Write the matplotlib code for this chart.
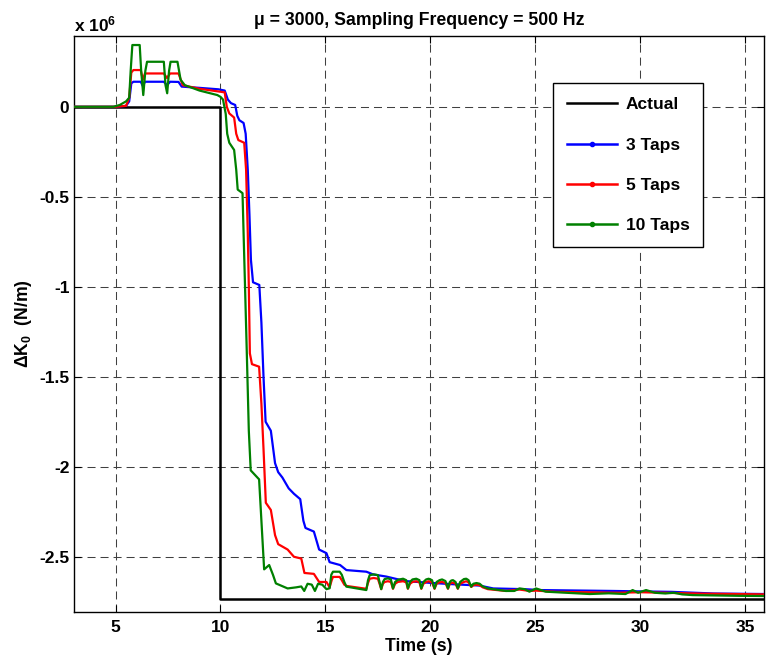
import matplotlib
matplotlib.use("Agg")
import matplotlib.pyplot as plt
from matplotlib.lines import Line2D

plt.rcParams['font.family'] = ['Liberation Sans', 'DejaVu Sans']
plt.rcParams['font.weight'] = 'bold'
plt.rcParams['mathtext.fontset'] = 'custom'
plt.rcParams['mathtext.rm'] = 'Liberation Sans:bold'
plt.rcParams['mathtext.bf'] = 'Liberation Sans:bold'
plt.rcParams['mathtext.default'] = 'bf'

# ---------------- data (values in units of 1e6 N/m) ----------------
t_actual = [3, 10, 10, 35.9]
k_actual = [0, 0, -2.733, -2.733]

t_3taps = [3, 5.0, 5.5, 5.65, 5.75, 5.85, 6.2, 6.3, 6.4, 7.3, 7.45, 7.6, 8.0, 8.15, 9.0, 9.9,
           10.2, 10.35, 10.5, 10.7, 10.8, 10.9, 11.1, 11.2, 11.3, 11.38, 11.45, 11.55, 11.85,
           11.95, 12.05, 12.15, 12.4, 12.6, 12.75, 12.95, 13.25, 13.5, 13.8, 13.95, 14.05, 14.45,
           14.7, 15.05, 15.2, 15.7, 16.0, 16.95, 17.27, 17.9, 18.8, 20.0, 21.0, 22.34, 23.0,
           24.5, 25.2, 28.7, 31.5, 33.5, 35.9]
k_3taps = [0, 0, 0.005, 0.03, 0.13, 0.139, 0.139, 0.115, 0.139, 0.139, 0.12, 0.139, 0.138, 0.112, 0.105, 0.097,
           0.09, 0.04, 0.02, 0.01, -0.05, -0.075, -0.09, -0.15, -0.35, -0.6, -0.85, -0.975, -0.99,
           -1.2, -1.5, -1.75, -1.8, -1.98, -2.03, -2.06, -2.12, -2.15, -2.18, -2.3, -2.34, -2.36,
           -2.46, -2.48, -2.53, -2.546, -2.574, -2.583, -2.598, -2.61, -2.635, -2.645, -2.652, -2.66, -2.676,
           -2.68, -2.685, -2.69, -2.695, -2.704, -2.707]

t_5taps = [3, 5.0, 5.5, 5.65, 5.75, 5.85, 6.2, 6.3, 6.4, 7.3, 7.45, 7.6, 8.0, 8.2, 9.0, 9.9,
           10.2, 10.3, 10.42, 10.65, 10.75, 10.85, 11.13, 11.22, 11.3, 11.35, 11.4, 11.5, 11.84,
           11.95, 12.05, 12.16, 12.4, 12.6, 12.75, 13.2, 13.5, 13.85, 14.0, 14.45, 14.7, 15.05,
           15.2, 15.3, 15.36, 15.68, 15.78, 15.9, 16.0, 16.95, 17.03, 17.11, 17.3, 17.5, 17.58,
           17.66, 17.74, 17.82, 17.98, 18.12, 18.22, 18.32, 18.45, 18.7, 18.85, 18.93, 19.03,
           19.15, 19.33, 19.48, 19.57, 19.67, 19.8, 19.92, 20.08, 20.2, 20.3, 20.44, 20.56, 20.72,
           20.84, 20.93, 21.0, 21.08, 21.2, 21.31, 21.42, 21.6, 21.71, 21.82, 21.95, 22.05, 22.2,
           22.35, 22.5, 22.74, 23.6, 24.25, 24.72, 25.04, 26.0, 29.0, 30.0, 33.0, 35.9]
k_5taps = [0, 0, 0.005, 0.05, 0.19, 0.204, 0.204, 0.15, 0.185, 0.185, 0.16, 0.185, 0.185, 0.12, 0.1, 0.085,
           0.08, 0.0, -0.037, -0.06, -0.15, -0.185, -0.2, -0.35, -0.7, -1.0, -1.37, -1.43, -1.444,
           -1.65, -1.9, -2.2, -2.24, -2.38, -2.43, -2.46, -2.5, -2.51, -2.59, -2.595, -2.64, -2.64,
           -2.67, -2.63, -2.612, -2.612, -2.63, -2.655, -2.662, -2.678, -2.645, -2.622, -2.618, -2.622, -2.65,
           -2.68, -2.65, -2.64, -2.636, -2.64, -2.678, -2.65, -2.64, -2.636, -2.642, -2.678, -2.65,
           -2.64, -2.636, -2.642, -2.678, -2.65, -2.64, -2.636, -2.642, -2.678, -2.65, -2.642, -2.64, -2.646,
           -2.678, -2.65, -2.645, -2.644, -2.65, -2.678, -2.65, -2.64, -2.636, -2.642, -2.668, -2.658, -2.655,
           -2.658, -2.67, -2.68, -2.69, -2.682, -2.69, -2.688, -2.695, -2.70, -2.697, -2.705, -2.709]

t_10taps = [3, 4.9, 5.2, 5.5, 5.65, 5.72, 5.8, 6.15, 6.22, 6.32, 6.42, 6.5, 7.3, 7.38, 7.46, 7.55,
            7.62, 7.95, 8.1, 8.3, 9.0, 9.85, 10.0, 10.12, 10.25, 10.32, 10.42, 10.65, 10.75, 10.82,
            11.05, 11.1, 11.17, 11.25, 11.35, 11.44, 11.84, 11.95, 12.08, 12.32, 12.5, 12.64, 13.2,
            13.6, 13.85, 13.99, 14.15, 14.35, 14.5, 14.65, 14.85, 15.05, 15.2, 15.28, 15.36, 15.68,
            15.78, 15.9, 16.0, 16.95, 17.03, 17.11, 17.3, 17.5, 17.58, 17.66, 17.74, 17.82, 17.98,
            18.12, 18.22, 18.32, 18.45, 18.7, 18.85, 18.93, 19.03, 19.15, 19.33, 19.48, 19.57, 19.67,
            19.8, 19.92, 20.08, 20.2, 20.3, 20.44, 20.56, 20.72, 20.84, 20.93, 21.0, 21.08, 21.2,
            21.31, 21.42, 21.6, 21.71, 21.82, 21.95, 22.05, 22.2, 22.35, 22.5, 22.74, 23.61, 24.0,
            24.25, 24.5, 24.72, 25.04, 25.5, 27.6, 28.5, 29.3, 29.64, 29.9, 30.28, 30.7, 31.2, 31.6,
            32.0, 32.5, 34.7, 35.9]
k_10taps = [0, 0, 0.01, 0.03, 0.05, 0.2, 0.343, 0.343, 0.2, 0.065, 0.2, 0.25, 0.25, 0.12, 0.075, 0.2,
            0.25, 0.25, 0.15, 0.12, 0.09, 0.065, 0.055, 0.04, -0.04, -0.15, -0.2, -0.24, -0.35, -0.46,
            -0.48, -0.7, -1.0, -1.35, -1.8, -2.02, -2.07, -2.3, -2.57, -2.546, -2.6, -2.648, -2.676,
            -2.67, -2.665, -2.69, -2.65, -2.655, -2.69, -2.65, -2.655, -2.68, -2.675, -2.6, -2.583, -2.583,
            -2.6, -2.64, -2.666, -2.685, -2.63, -2.602, -2.598, -2.602, -2.64, -2.68, -2.64, -2.624, -2.62,
            -2.626, -2.676, -2.64, -2.628, -2.622, -2.63, -2.676, -2.64, -2.626, -2.622, -2.63, -2.676, -2.64,
            -2.626, -2.622, -2.63, -2.676, -2.64, -2.63, -2.626, -2.635, -2.676, -2.64, -2.632, -2.63, -2.64,
            -2.676, -2.64, -2.624, -2.622, -2.63, -2.666, -2.65, -2.646, -2.65, -2.665, -2.676, -2.69, -2.69,
            -2.676, -2.68, -2.694, -2.676, -2.694, -2.707, -2.703, -2.707, -2.685, -2.700, -2.685, -2.700,
            -2.704, -2.700, -2.709, -2.713, -2.717, -2.718]

series = [
    ("3 Taps", t_3taps, k_3taps, (0, 0, 1)),
    ("5 Taps", t_5taps, k_5taps, (1, 0, 0)),
    ("10 Taps", t_10taps, k_10taps, (0, 0.5, 0)),
]

x_ticks = [5, 10, 15, 20, 25, 30, 35]
y_ticks = [0, -0.5, -1, -1.5, -2, -2.5]
y_tick_labels = ["0", "-0.5", "-1", "-1.5", "-2", "-2.5"]

# ---------------- figure ----------------
fig = plt.figure(figsize=(7.69, 6.61), dpi=100)
ax = fig.add_axes([0.0957, 0.0741, 0.8978, 0.8714])

ax.plot(t_actual, k_actual, color='black', lw=1.8, label='Actual', zorder=3)
for name, t, k, c in series:
    ax.plot(t, k, color=c, lw=1.6, label=name, zorder=4, solid_joinstyle='round')

ax.set_xlim(3, 35.9)
ax.set_ylim(-2.807, 0.393)
ax.set_xticks(x_ticks)
ax.set_yticks(y_ticks)
ax.set_yticklabels(y_tick_labels)

ax.set_axisbelow(True)
ax.grid(True, color='#404040', lw=0.75, linestyle=(0, (7.7, 4.8)))
ax.tick_params(direction='in', top=True, right=True, length=5, width=0.8,
               labelsize=12.5, pad=3)
ax.tick_params(axis='x', pad=6)
for s in ax.spines.values():
    s.set_linewidth(1.0)

ax.set_title('μ = 3000, Sampling Frequency = 500 Hz', fontsize=12.7, fontweight='bold', pad=8)
ax.set_xlabel('Time (s)', fontsize=12.7, fontweight='bold', labelpad=2)
ax.set_ylabel('ΔK$_0$  (N/m)', fontsize=12.7, fontweight='bold', labelpad=4)
ax.text(0.0, 1.002, 'x 10$^{6}$', transform=ax.transAxes, ha='left', va='bottom',
        fontsize=12.5, fontweight='bold')

handles = [Line2D([], [], color='black', lw=1.8)]
for name, t, k, c in series:
    handles.append(Line2D([], [], color=c, lw=1.8, marker='.', markersize=6))
leg = ax.legend(handles, ['Actual'] + [s[0] for s in series], loc='upper left',
                bbox_to_anchor=(0.694, 0.918), frameon=True,
                fancybox=False, handlelength=2.9, handletextpad=0.5, labelspacing=1.45,
                borderpad=0.8, borderaxespad=0, numpoints=1, prop={'weight': 'bold', 'size': 12.5})
leg.get_frame().set_edgecolor('black')
leg.get_frame().set_linewidth(1.0)
leg.get_frame().set_alpha(1)

fig.savefig('out.png', dpi=100)
